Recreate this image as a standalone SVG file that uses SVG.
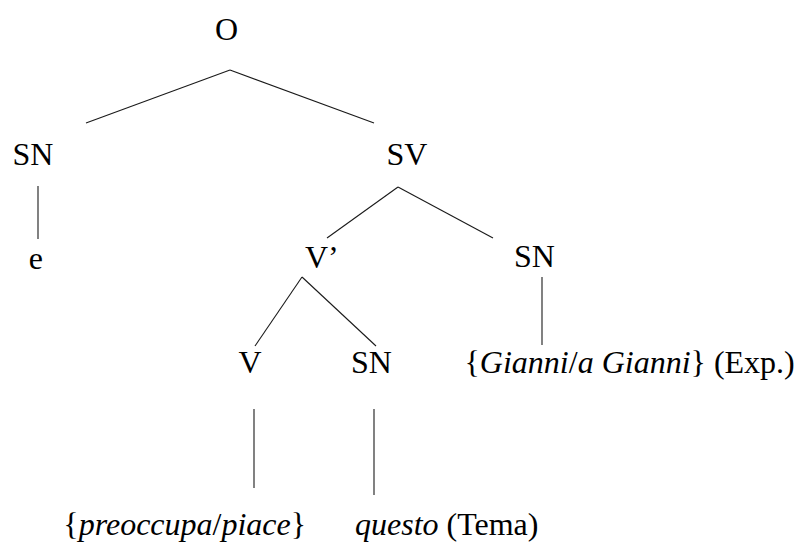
<svg xmlns="http://www.w3.org/2000/svg" width="794" height="545" viewBox="0 0 794 545">
  <style>
    .it { font-style: italic; }
    .edge { stroke: #1a1a1a; stroke-width: 1.1; fill: none; }
  </style>
  <rect width="794" height="545" fill="#fff"/>

  <!-- tree branches -->
  <g id="connectors">
    <line class="edge" x1="230" y1="70" x2="86" y2="123"/>
    <line class="edge" x1="230" y1="70" x2="374" y2="123"/>
    <line class="edge" x1="38" y1="186" x2="38" y2="239"/>
    <line class="edge" x1="398" y1="187" x2="327" y2="238"/>
    <line class="edge" x1="398" y1="187" x2="493" y2="238"/>
    <line class="edge" x1="302" y1="277" x2="255" y2="346"/>
    <line class="edge" x1="302" y1="277" x2="376" y2="346"/>
    <line class="edge" x1="542" y1="277" x2="542" y2="345"/>
    <line class="edge" x1="254" y1="409" x2="254" y2="488"/>
    <line class="edge" x1="374" y1="409" x2="374" y2="495"/>
  </g>

  <!-- nodes -->
  <g font-family="Liberation Serif, serif" font-size="32" fill="#000">
    <g id="node-O"><text x="226.5" y="40" text-anchor="middle">O</text></g>
    <g id="node-SN-subject"><text x="12.5" y="165">SN</text></g>
    <g id="node-SV"><text x="386.5" y="165">SV</text></g>
    <g id="node-e"><text x="35.8" y="269" text-anchor="middle">e</text></g>
    <g id="node-Vbar"><text x="305" y="268">V’</text></g>
    <g id="node-SN-exp"><text x="514" y="267">SN</text></g>
    <g id="node-V"><text x="250" y="373" text-anchor="middle">V</text></g>
    <g id="node-SN-obj"><text x="351" y="373">SN</text></g>
    <g id="node-gianni"><text x="464.5" y="373">{<tspan class="it">Gianni</tspan>/<tspan class="it">a Gianni</tspan>} (Exp.)</text></g>
    <g id="node-verb"><text x="63.3" y="535">{<tspan class="it">preoccupa</tspan>/<tspan class="it">piace</tspan>}</text></g>
    <g id="node-questo"><text x="355" y="535"><tspan class="it">questo</tspan> (Tema)</text></g>
  </g>
</svg>
